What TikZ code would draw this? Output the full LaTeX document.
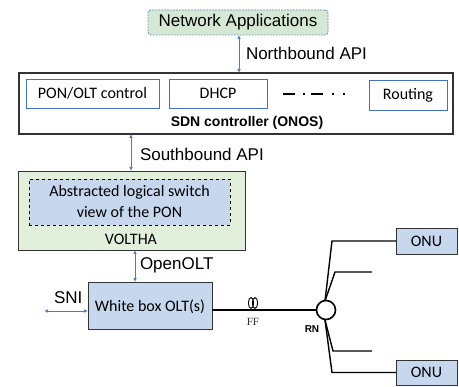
\documentclass[tikz,border=0pt]{standalone}
\usepackage{fontspec}
\setmainfont{Carlito}
\newfontfamily\arialf{Liberation Sans}
\newfontfamily\timesf{Liberation Serif}
\usetikzlibrary{arrows.meta}
\definecolor{appgreen}{HTML}{D5E8D4}
\definecolor{appborder}{HTML}{6C8EBF}
\definecolor{volgreen}{HTML}{E2EFDA}
\definecolor{boxblue}{HTML}{C6D7EE}
\definecolor{lineblue}{HTML}{4472C4}
\definecolor{arrowblue}{HTML}{4A7EBB}
\definecolor{darkedge}{HTML}{333333}
\begin{document}
\begin{tikzpicture}[x=1pt,y=-1pt,
  every node/.style={inner sep=0pt, outer sep=0pt},
  rect/.style={anchor=north west, draw, inner sep=0pt, outer sep=0pt},
  appbox/.style={rect, rounded corners=3pt, dash pattern=on 1.8pt off 1.2pt, draw=appborder, fill=appgreen, line width=0.9pt},
  ctrlbox/.style={rect, draw=darkedge, line width=1.3pt, fill=white},
  modbox/.style={rect, draw=lineblue, line width=0.8pt, fill=white},
  voltbox/.style={rect, draw=darkedge, line width=0.8pt, fill=volgreen},
  absbox/.style={rect, dashed, draw=black, line width=0.9pt, fill=boxblue},
  bluebox/.style={rect, draw=darkedge, line width=0.8pt, fill=boxblue},
  biarrow/.style={draw=arrowblue, line width=0.7pt, {Latex[length=4pt,width=3.5pt]}-{Latex[length=4pt,width=3.5pt]}},
  fiber/.style={draw=black, line width=1.4pt},
  apitext/.style={anchor=west, font=\arialf\fontsize{17}{20}\selectfont},
  cal/.style={font=\fontsize{16}{19}\selectfont}
]
\useasboundingbox (0,0) rectangle (459,387);

% Network applications
\node[appbox, minimum width=180pt, minimum height=25pt] (napp) at (148,10) {};
\node[font=\arialf\fontsize{17}{20}\selectfont] (nappt) at (napp.center) {Network Applications};

% SDN controller
\node[ctrlbox, minimum width=434pt, minimum height=61pt] (sdn) at (19,73) {};
\node[modbox, minimum width=133pt, minimum height=29pt] (pon) at (26,79) {};
\node[cal] (pont) at (pon.center) {PON/OLT control};
\node[modbox, minimum width=98pt, minimum height=29pt] (dhcp) at (169,79) {};
\node[cal] (dhcpt) at (dhcp.center) {DHCP};
\node[modbox, minimum width=78pt, minimum height=30pt] (rout) at (369,80) {};
\node[cal] (routt) at (rout.center) {Routing};
\coordinate (dd1) at (283,94);
\coordinate (dd2) at (346,94);
\draw[line width=2.2pt, dash pattern=on 12pt off 8pt on 2pt off 6pt on 12pt off 9pt on 2pt off 9pt on 2pt off 9pt] (dd1) -- (dd2);
\node[font=\arialf\bfseries\fontsize{14}{17}\selectfont] (sdnt) at (247,123) {SDN controller (ONOS)};

% Northbound
\draw[biarrow] (napp.south -| 239,0) -- (sdn.north -| 239,0);
\node[apitext] (nb) at (246,53) {Northbound API};

% VOLTHA
\node[voltbox, minimum width=227pt, minimum height=79pt] (volt) at (18,171) {};
\node[absbox, minimum width=201pt, minimum height=46pt] (abs) at (29,179) {};
\node[cal, align=center, font=\fontsize{16}{21}\selectfont] (abst) at (abs.center) {Abstracted logical switch\\view of the PON};
\node[cal] (voltt) at (131,239) {VOLTHA};

% Southbound
\draw[biarrow] (sdn.south -| 131,0) -- (volt.north -| 131,0);
\node[apitext] (sb) at (140,154) {Southbound API};

% OLT
\node[bluebox, minimum width=124pt, minimum height=47pt] (olt) at (88,282) {};
\node[cal] (oltt) at (150,307) {White box OLT(s)};
\draw[biarrow] (volt.south -| 135,0) -- (olt.north -| 135,0);
\node[apitext] (ool) at (140,265) {OpenOLT};

% SNI
\coordinate (sniend) at (44,311);
\draw[biarrow] (sniend) -- (olt.west |- sniend);
\node[apitext] (sni) at (54,298) {SNI};

% ONUs
\node[bluebox, minimum width=61pt, minimum height=26pt] (onu1) at (396,228) {};
\node[cal] (onu1t) at (onu1.center) {ONU};
\node[bluebox, minimum width=61pt, minimum height=25pt] (onu2) at (396,360) {};
\node[cal] (onu2t) at (onu2.center) {ONU};

% Remote node branches
\coordinate (rnc) at (326,310);
\coordinate (rtop) at (325,301);
\coordinate (rbot) at (325,320);
\coordinate (k1) at (332,241);
\coordinate (k2) at (335,272);
\coordinate (e2) at (372,272);
\coordinate (k3) at (333,351);
\coordinate (e3) at (372,351);
\coordinate (k4) at (332,372.5);
\draw[fiber] (rtop) -- (k1) -- (onu1.west);
\draw[fiber] (rtop) -- (k2) -- (e2);
\draw[fiber] (rbot) -- (k3) -- (e3);
\draw[fiber] (rbot) -- (k4) -- (onu2.west);
\node[circle, draw=black, line width=1.6pt, fill=white, minimum size=19pt] (rn) at (rnc) {};
\draw[fiber] (olt.east |- rn) -- (rn.west);
\node[font=\arialf\bfseries\fontsize{10}{12}\selectfont] (rnt) at (312,329) {RN};

% Fiber coil
\draw[line width=0.9pt] (251,303) ellipse [x radius=2.6pt, y radius=5.5pt];
\draw[line width=0.9pt] (255,303) ellipse [x radius=2.6pt, y radius=5.5pt];
\node[font=\timesf\fontsize{11}{13}\selectfont, text=darkedge] (fft) at (253,322) {FF};
\end{tikzpicture}
\end{document}
